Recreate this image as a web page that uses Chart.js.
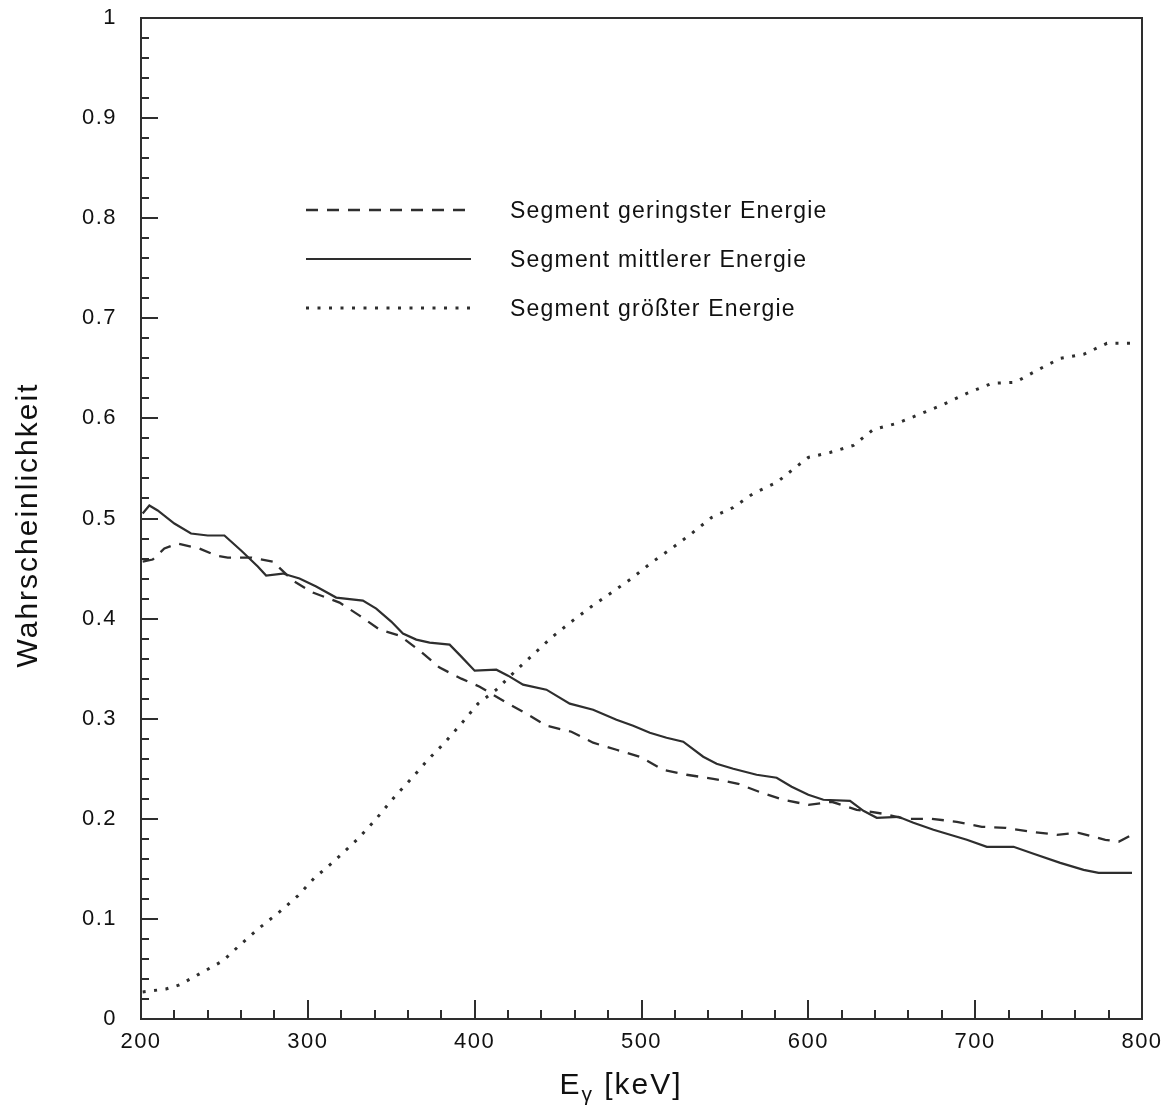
<!DOCTYPE html>
<html>
<head>
<meta charset="utf-8">
<title>Wahrscheinlichkeit je Segment</title>
<script src="https://cdn.jsdelivr.net/npm/chart.js@4.4.1/dist/chart.umd.min.js"></script>
<style>
  html, body { margin: 0; padding: 0; background: #fff; }
  #wrap { width: 1169px; height: 1112px; }
</style>
</head>
<body>
<div id="wrap"><canvas id="chart"></canvas></div>
<script>
// Segment geringster Energie (gestrichelt)
const energyLow = [201, 207, 214, 222, 235, 245, 252, 266, 279, 291, 303, 319, 331, 343, 355, 367, 379, 392, 403, 418,
  431, 443, 458, 471, 485, 499, 513, 527, 543, 558, 572, 585, 600, 614, 629, 645, 658, 674, 689, 704,
  718, 734, 749, 762, 778, 786, 795];
const probLow = [0.457, 0.459, 0.470, 0.475, 0.470, 0.463, 0.461, 0.461, 0.457, 0.438, 0.426, 0.416, 0.403, 0.389, 0.383, 0.368, 0.351, 0.340, 0.332, 0.317,
  0.305, 0.293, 0.287, 0.276, 0.269, 0.262, 0.249, 0.244, 0.240, 0.235, 0.226, 0.219, 0.214, 0.217, 0.209, 0.205, 0.200, 0.200, 0.197, 0.192,
  0.191, 0.187, 0.184, 0.186, 0.179, 0.177, 0.185];

// Segment mittlerer Energie (durchgezogen)
const energyMid = [201, 205, 210, 220, 230, 240, 250, 260, 270, 275, 285, 295, 305, 317, 333, 341, 350, 357, 365, 373,
  385, 392, 400, 413, 420, 429, 443, 457, 471, 485, 495, 505, 515, 525, 537, 545, 555, 569, 581, 590,
  600, 609, 625, 633, 641, 654, 663, 675, 685, 695, 707, 717, 723, 735, 751, 765, 774, 794];
const probMid = [0.505, 0.513, 0.508, 0.495, 0.485, 0.483, 0.483, 0.468, 0.452, 0.443, 0.445, 0.440, 0.432, 0.421, 0.418, 0.410, 0.397, 0.385, 0.379, 0.376,
  0.374, 0.362, 0.348, 0.349, 0.343, 0.334, 0.329, 0.315, 0.309, 0.299, 0.293, 0.286, 0.281, 0.277, 0.262, 0.255, 0.250, 0.244, 0.241, 0.232,
  0.224, 0.219, 0.218, 0.208, 0.201, 0.202, 0.196, 0.189, 0.184, 0.179, 0.172, 0.172, 0.172, 0.165, 0.156, 0.149, 0.146, 0.146];

// Segment größter Energie (gepunktet)
const energyHigh = [201, 215, 223, 236, 249, 260, 271, 283, 294, 304, 316, 330, 340, 352, 362, 372, 382, 392, 402, 413,
  424, 435, 446, 458, 470, 482, 494, 506, 518, 530, 542, 555, 567, 581, 593, 600, 613, 627, 639, 653,
  668, 681, 695, 710, 724, 737, 751, 765, 779, 793];
const probHigh = [0.027, 0.030, 0.034, 0.046, 0.058, 0.075, 0.091, 0.107, 0.123, 0.141, 0.158, 0.180, 0.198, 0.222, 0.240, 0.259, 0.276, 0.295, 0.315, 0.329,
  0.347, 0.364, 0.381, 0.397, 0.412, 0.426, 0.440, 0.456, 0.470, 0.485, 0.501, 0.511, 0.525, 0.536, 0.552, 0.561, 0.566, 0.573, 0.589, 0.595,
  0.605, 0.614, 0.625, 0.635, 0.636, 0.648, 0.660, 0.664, 0.675, 0.675];

const seriesNames = ['Segment geringster Energie', 'Segment mittlerer Energie', 'Segment größter Energie'];
const xRange = [200, 800];
const yRange = [0, 1];
const xStep = 20, yStep = 0.02;

const INK = '#2e2e2e';
const FONT = '"Liberation Sans", Arial, Helvetica, sans-serif';
const dashes = [[12, 9], [], [3, 8.5]];
const widths = [2.3, 2.2, 3];

function pairs(xs, ys) {
  return xs.map((x, i) => ({ x: x, y: ys[i] }));
}

function isMajorX(v) { return Math.round(v) % 100 === 0; }
function isMajorY(v) { return Math.round(v * 100) % 10 === 0; }

// drop the label overflow so layout padding alone places the plot box
function fixBox(w, h) {
  return s => {
    if (w) s.width = w;
    if (h) s.height = h;
    s.paddingTop = 0; s.paddingBottom = 0;
    s.paddingLeft = 0; s.paddingRight = 0;
  };
}

// frame, inward ticks, legend and axis titles
const decorations = {
  id: 'decorations',
  beforeDraw(chart) {
    chart.ctx.letterSpacing = '1.5px';
  },
  afterDraw(chart) {
    const ctx = chart.ctx;
    const ca = chart.chartArea;
    const xs = chart.scales.x, ys = chart.scales.y;
    ctx.save();
    ctx.strokeStyle = INK;
    ctx.lineWidth = 2;
    ctx.setLineDash([]);

    ys.ticks.forEach(t => {
      const py = Math.round(ys.getPixelForValue(t.value));
      const len = isMajorY(t.value) ? 17 : 8;
      ctx.beginPath();
      ctx.moveTo(ca.left, py);
      ctx.lineTo(ca.left + len, py);
      ctx.stroke();
    });
    xs.ticks.forEach(t => {
      const px = Math.round(xs.getPixelForValue(t.value));
      const len = isMajorX(t.value) ? 19 : 9;
      ctx.beginPath();
      ctx.moveTo(px, ca.bottom);
      ctx.lineTo(px, ca.bottom - len);
      ctx.stroke();
    });
    ctx.strokeRect(ca.left, ca.top, ca.right - ca.left, ca.bottom - ca.top);

    // legend inside the plot
    const lx0 = ca.left + 165, lx1 = ca.left + 330, tx = ca.left + 369;
    const rows = [ca.top + 192, ca.top + 241, ca.top + 290];
    ctx.font = '23px ' + FONT;
    ctx.letterSpacing = '1.2px';
    ctx.fillStyle = '#111';
    ctx.textBaseline = 'middle';
    ctx.textAlign = 'left';
    chart.data.datasets.forEach((ds, i) => {
      ctx.lineWidth = widths[i];
      ctx.setLineDash(dashes[i]);
      ctx.beginPath();
      ctx.moveTo(lx0, rows[i]);
      ctx.lineTo(lx1, rows[i]);
      ctx.stroke();
      ctx.fillText(ds.label, tx, rows[i] + 2);
    });
    ctx.setLineDash([]);

    // y axis title
    ctx.save();
    ctx.translate(29, 525);
    ctx.rotate(-Math.PI / 2);
    ctx.font = '30px ' + FONT;
    ctx.letterSpacing = '2px';
    ctx.textAlign = 'center';
    ctx.textBaseline = 'middle';
    ctx.fillText('Wahrscheinlichkeit', 0, 0);
    ctx.restore();

    // x axis title: E with subscript gamma, then unit
    ctx.letterSpacing = '2px';
    ctx.textAlign = 'left';
    ctx.textBaseline = 'alphabetic';
    const big = '30px ' + FONT, small = '21px ' + FONT;
    ctx.font = big;
    const wE = ctx.measureText('E').width;
    const wUnit = ctx.measureText(' [keV]').width;
    ctx.font = small;
    const wG = ctx.measureText('γ').width;
    let x = 621 - (wE + wG + wUnit) / 2;
    const base = 1094;
    ctx.font = big;
    ctx.fillText('E', x, base);
    x += wE;
    ctx.font = small;
    ctx.fillText('γ', x, base + 7);
    x += wG;
    ctx.font = big;
    ctx.fillText(' [keV]', x, base);
    ctx.restore();
  }
};

const ctx = document.getElementById('chart').getContext('2d');
new Chart(ctx, {
  type: 'line',
  data: {
    datasets: [
      { label: seriesNames[0], data: pairs(energyLow, probLow) },
      { label: seriesNames[1], data: pairs(energyMid, probMid) },
      { label: seriesNames[2], data: pairs(energyHigh, probHigh) }
    ].map((ds, i) => Object.assign(ds, {
      borderColor: INK,
      borderWidth: widths[i],
      borderDash: dashes[i],
      pointRadius: 0,
      tension: 0,
      fill: false
    }))
  },
  options: {
    responsive: true,
    maintainAspectRatio: false,
    animation: false,
    layout: { padding: { top: 18, right: 27, left: 0, bottom: 0 } },
    plugins: {
      legend: { display: false },
      tooltip: { enabled: false }
    },
    scales: {
      x: {
        type: 'linear',
        min: xRange[0],
        max: xRange[1],
        grid: { display: false, drawTicks: false },
        border: { display: false },
        afterFit: fixBox(0, 93),
        ticks: {
          stepSize: xStep,
          autoSkip: false,
          maxRotation: 0,
          padding: 10,
          color: '#111',
          font: { family: FONT, size: 22 },
          callback: v => isMajorX(v) ? String(Math.round(v)) : ''
        }
      },
      y: {
        min: yRange[0],
        max: yRange[1],
        grid: { display: false, drawTicks: false },
        border: { display: false },
        afterFit: fixBox(141, 0),
        ticks: {
          stepSize: yStep,
          autoSkip: false,
          padding: 24,
          color: '#111',
          font: { family: FONT, size: 22 },
          callback: v => {
            const k = Math.round(v * 100);
            if (k % 10 !== 0) return '';
            return k === 0 ? '0' : k === 100 ? '1' : String(k / 100);
          }
        }
      }
    }
  },
  plugins: [decorations]
});
</script>
</body>
</html>
